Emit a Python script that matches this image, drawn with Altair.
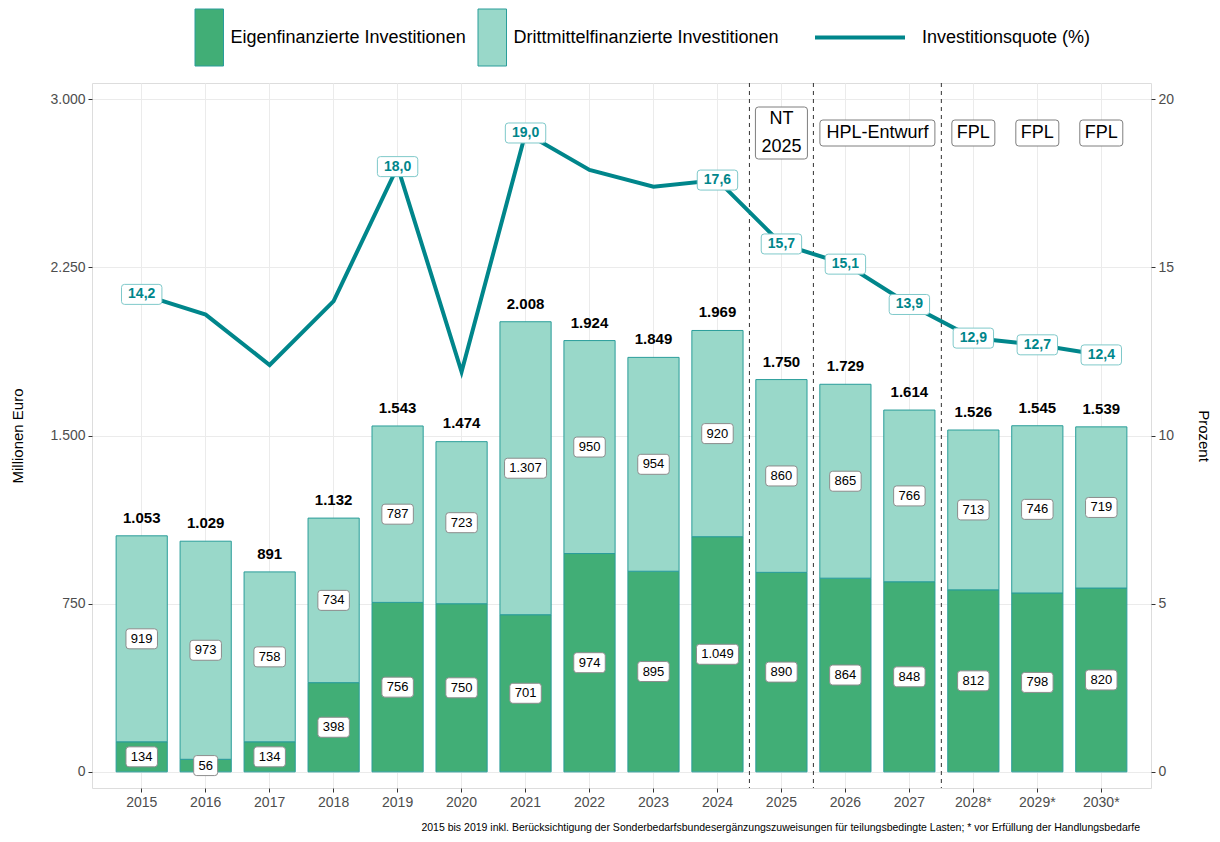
import altair as alt
import pandas as pd

# ---------------- data ----------------
years = ["2015", "2016", "2017", "2018", "2019", "2020", "2021", "2022",
         "2023", "2024", "2025", "2026", "2027", "2028*", "2029*", "2030*"]
eigen = [134, 56, 134, 398, 756, 750, 701, 974, 895, 1049, 890, 864, 848, 812, 798, 820]
dritt = [919, 973, 758, 734, 787, 723, 1307, 950, 954, 920, 860, 865, 766, 713, 746, 719]
totals = [1053, 1029, 891, 1132, 1543, 1474, 2008, 1924, 1849, 1969, 1750, 1729, 1614, 1526, 1545, 1539]
quote = [14.2, 13.6, 12.1, 14.0, 18.0, 11.9, 19.0, 17.9, 17.4, 17.6, 15.7, 15.1, 13.9, 12.9, 12.7, 12.4]
quote_label_years = ["2015", "2019", "2021", "2024", "2025", "2026", "2027", "2028*", "2029*", "2030*"]
divider_years = ["2025", "2026", "2028*"]
phase_years = ["2025", "2028*", "2029*", "2030*"]
phase_labels = ["NT\n2025", "FPL", "FPL", "FPL"]
hpl_years = ["2026"]
hpl_labels = ["HPL-Entwurf"]
series = ["Eigenfinanzierte Investitionen", "Drittmittelfinanzierte Investitionen"]
line_series = "Investitionsquote (%)"
footnote = ("2015 bis 2019 inkl. Berücksichtigung der Sonderbedarfsbundesergänzungszuweisungen "
            "für teilungsbedingte Lasten; * vor Erfüllung der Handlungsbedarfe")

# ---------------- styles ----------------
FONT = "Liberation Sans"
C_EIGEN = "#41ae76"
C_DRITT = "#99d8c9"
C_BAR_STROKE = "#2a9d9a"
C_LINE = "#00868b"
C_LINE_BOX = "#7fc9ca"
W, H = 1059, 705
HALF_STEP = 32


def de_int(v):
    return f"{v:,}".replace(",", ".")


def de_dec(v):
    return f"{v:.1f}".replace(".", ",")


def box_path(w, h, r=3):
    a, b = w / 2, h / 2
    return (f"M{-a + r},{-b}H{a - r}Q{a},{-b} {a},{-b + r}V{b - r}Q{a},{b} {a - r},{b}"
            f"H{-a + r}Q{-a},{b} {-a},{b - r}V{-b + r}Q{-a},{-b} {-a + r},{-b}Z")


def bar_label_box(txt):
    digits = sum(ch.isdigit() for ch in txt)
    dots = len(txt) - digits
    return box_path(9 + 7.5 * digits + 3 * dots, 20)


def quote_label_box(txt):
    digits = sum(ch.isdigit() for ch in txt)
    return box_path(12 + 8.3 * digits + 3.5, 20)


def phase_box(txt):
    lines = txt.split("\n")
    return box_path(16 + 9 * max(len(s) for s in lines), 26 * len(lines))


# ---------------- tables ----------------
eig_df = pd.DataFrame({"jahr": years, "serie": series[0], "unten": 0, "oben": eigen,
                       "mitte": [v / 2 for v in eigen],
                       "txt": [de_int(v) for v in eigen]})
dri_df = pd.DataFrame({"jahr": years, "serie": series[1], "unten": eigen,
                       "oben": [a + b for a, b in zip(eigen, dritt)],
                       "mitte": [a + b / 2 for a, b in zip(eigen, dritt)],
                       "txt": [de_int(v) for v in dritt]})
lab_df = pd.concat([eig_df, dri_df], ignore_index=True)
lab_df["shape"] = lab_df["txt"].map(bar_label_box)

tot_df = pd.DataFrame({"jahr": years, "total": totals, "txt": [de_int(v) for v in totals]})

q_df = pd.DataFrame({"jahr": years, "quote": quote, "serie": line_series,
                     "txt": [de_dec(v) for v in quote]})
ql_df = q_df[q_df["jahr"].isin(quote_label_years)].copy()
ql_df["shape"] = ql_df["txt"].map(quote_label_box)

div_df = pd.DataFrame({"jahr": divider_years})
ph_df = pd.DataFrame({"jahr": phase_years, "txt": phase_labels})
ph_df["shape"] = ph_df["txt"].map(phase_box)
ph_df["zeilen"] = ph_df["txt"].map(lambda s: len(s.split("\n")))
hpl_df = pd.DataFrame({"jahr": hpl_years, "txt": hpl_labels})
hpl_df["shape"] = hpl_df["txt"].map(phase_box)

# ---------------- encodings ----------------
X = alt.X("jahr:N", sort=years,
          scale=alt.Scale(domain=years, paddingInner=0.2, paddingOuter=0.377),
          axis=alt.Axis(title=None, labelAngle=0, grid=True, gridColor="#ebebeb",
                        domain=False, tickColor="#333333", tickSize=4,
                        labelFontSize=14, labelColor="#4d4d4d", labelPadding=3,
                        labelFont=FONT))

left_axis = alt.Axis(values=[0, 750, 1500, 2250, 3000], title="Millionen Euro",
                     labelExpr="replace(format(datum.value, ','), ',', '.')",
                     grid=True, gridColor="#ebebeb", domain=False,
                     tickColor="#333333", tickSize=4, labelFontSize=14,
                     labelColor="#4d4d4d", labelPadding=3, labelFont=FONT,
                     titleFont=FONT, titleFontSize=15, titleFontWeight="normal",
                     titleColor="black", titleX=-75, titleY=H / 2, titleAngle=270,
                     titleAlign="center", titleBaseline="middle")
left_scale = alt.Scale(domain=[-72, 3073], nice=False, zero=False)

right_axis = alt.Axis(orient="right", values=[0, 5, 10, 15, 20], title="Prozent",
                      grid=False, domain=False, tickColor="#333333", tickSize=4,
                      labelFontSize=14, labelColor="#4d4d4d", labelPadding=3,
                      labelFont=FONT, titleFont=FONT, titleFontSize=15,
                      titleFontWeight="normal", titleColor="black", titleX=52,
                      titleY=H / 2, titleAngle=90, titleAlign="center",
                      titleBaseline="middle")
right_scale = alt.Scale(domain=[-72 / 150, 3073 / 150], nice=False, zero=False)


def bar_legend(x):
    return alt.Legend(title=None, orient="none", direction="horizontal",
                      legendX=x, legendY=-74.5, symbolType="M0,-1H1V1H0Z",
                      symbolSize=3249, symbolOffset=0, symbolStrokeColor=C_BAR_STROKE,
                      symbolStrokeWidth=1, labelOffset=6.5, labelFontSize=18,
                      labelColor="black", labelFont=FONT, labelLimit=400,
                      padding=0, offset=0)


# ---------------- left layers ----------------
bars_e = alt.Chart(eig_df).mark_bar(stroke=C_BAR_STROKE, strokeWidth=1).encode(
    x=X,
    y=alt.Y("oben:Q", scale=left_scale, axis=left_axis),
    y2="unten:Q",
    fill=alt.Fill("serie:N", scale=alt.Scale(domain=[series[0]], range=[C_EIGEN]),
                  legend=bar_legend(74)),
)
bars_d = alt.Chart(dri_df).mark_bar(stroke=C_BAR_STROKE, strokeWidth=1).encode(
    x=X,
    y=alt.Y("oben:Q", scale=left_scale, axis=left_axis),
    y2="unten:Q",
    fill=alt.Fill("serie:N", scale=alt.Scale(domain=[series[1]], range=[C_DRITT]),
                  legend=bar_legend(357)),
)

dividers = alt.Chart(div_df).mark_rule(strokeDash=[4, 4], color="#333333",
                                       strokeWidth=1, xOffset=-HALF_STEP).encode(x=X)

bar_boxes = alt.Chart(lab_df).mark_point(filled=True, fill="white", stroke="#8c8c8c",
                                         strokeWidth=1, size=4, opacity=1).encode(
    x=X, y=alt.Y("mitte:Q", scale=left_scale, axis=left_axis),
    shape=alt.Shape("shape:N", scale=None, legend=None))

bar_texts = alt.Chart(lab_df).mark_text(fontSize=13, font=FONT, color="black",
                                        baseline="middle").encode(
    x=X, y=alt.Y("mitte:Q", scale=left_scale, axis=left_axis), text="txt:N")

tot_texts = alt.Chart(tot_df).mark_text(fontSize=15, fontWeight="bold", font=FONT,
                                        color="black", baseline="alphabetic",
                                        dy=-13).encode(
    x=X, y=alt.Y("total:Q", scale=left_scale, axis=left_axis), text="txt:N")

ph_boxes = alt.Chart(ph_df).mark_point(filled=True, fill="white", stroke="#7f7f7f",
                                       strokeWidth=1, size=4, opacity=1).encode(
    x=X, y=alt.value(50), shape=alt.Shape("shape:N", scale=None, legend=None))
ph_texts_1 = alt.Chart(ph_df).transform_filter("datum.zeilen == 1").mark_text(
    fontSize=18, font=FONT, color="black", baseline="middle").encode(
    x=X, y=alt.value(50), text="txt:N")
ph_texts_2 = alt.Chart(ph_df).transform_filter("datum.zeilen == 2").mark_text(
    fontSize=18, font=FONT, color="black", baseline="middle", lineBreak="\n",
    lineHeight=28, dy=-14).encode(
    x=X, y=alt.value(50), text="txt:N")
hpl_boxes = alt.Chart(hpl_df).mark_point(filled=True, fill="white", stroke="#7f7f7f",
                                         strokeWidth=1, size=4, opacity=1,
                                         xOffset=HALF_STEP).encode(
    x=X, y=alt.value(50), shape=alt.Shape("shape:N", scale=None, legend=None))
hpl_texts = alt.Chart(hpl_df).mark_text(fontSize=18, font=FONT, color="black",
                                        baseline="middle", dx=HALF_STEP).encode(
    x=X, y=alt.value(50), text="txt:N")

left = alt.layer(bars_e, bars_d, dividers, bar_boxes, bar_texts, tot_texts,
                 ph_boxes, ph_texts_1, ph_texts_2, hpl_boxes,
                 hpl_texts).resolve_scale(fill="independent")

# ---------------- right layers ----------------
line = alt.Chart(q_df).mark_line(strokeWidth=4, strokeJoin="miter").encode(
    x=X, y=alt.Y("quote:Q", scale=right_scale, axis=right_axis),
    stroke=alt.Stroke("serie:N", scale=alt.Scale(domain=[line_series], range=[C_LINE]),
                      legend=alt.Legend(title=None, orient="none", direction="horizontal",
                                        legendX=721, legendY=-92.5, symbolType="stroke",
                                        symbolSize=8100, symbolStrokeWidth=4,
                                        symbolStrokeColor=C_LINE, labelOffset=15,
                                        labelFontSize=18, labelColor="black",
                                        labelFont=FONT, labelLimit=400, padding=0,
                                        offset=0)))

q_boxes = alt.Chart(ql_df).mark_point(filled=True, fill="white", stroke=C_LINE_BOX,
                                      strokeWidth=1, size=4, opacity=1).encode(
    x=X, y=alt.Y("quote:Q", scale=right_scale, axis=right_axis),
    shape=alt.Shape("shape:N", scale=None, legend=None))
q_texts = alt.Chart(ql_df).mark_text(fontSize=14, fontWeight="bold", font=FONT,
                                     color=C_LINE, baseline="middle").encode(
    x=X, y=alt.Y("quote:Q", scale=right_scale, axis=right_axis), text="txt:N")

right = alt.layer(line, q_boxes, q_texts)

chart = alt.layer(left, right).resolve_scale(y="independent").properties(
    width=W, height=H,
    autosize=alt.AutoSizeParams(type="none"),
    padding={"left": 84, "top": 75, "right": 61, "bottom": 46},
    title=alt.TitleParams(footnote, orient="bottom", anchor="end", frame="group",
                          fontSize=10.5, fontWeight="normal", font=FONT,
                          color="black", offset=14, dx=-11),
).configure_view(stroke="#8c8c8c", strokeWidth=1).configure(font=FONT)

chart.save("out.html", embed_options={"renderer": "svg", "actions": False})
